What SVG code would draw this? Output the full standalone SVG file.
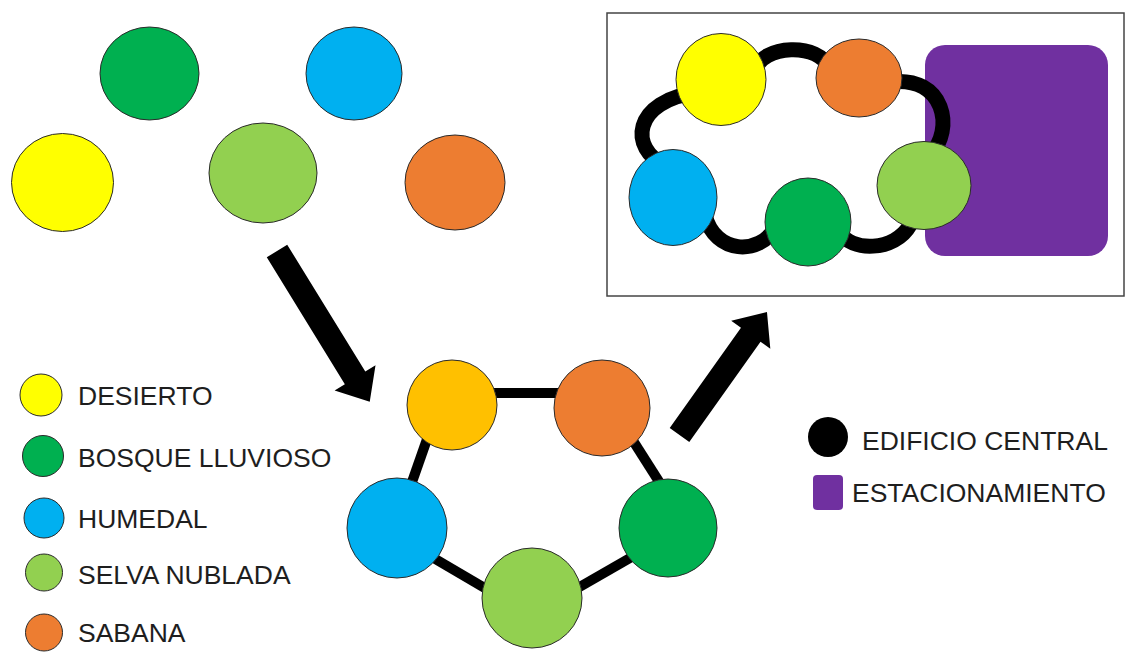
<svg xmlns="http://www.w3.org/2000/svg" width="1125" height="652" viewBox="0 0 1125 652">
<style>
.c{stroke:#2a2a2a;stroke-width:1}
.y{fill:#FFFF00}.dg{fill:#00B050}.bl{fill:#00B0F0}.lg{fill:#92D050}.or{fill:#ED7D31}.go{fill:#FFC000}
.lbl{font-family:"Liberation Sans",Arial,sans-serif;font-size:26.5px;fill:#1e1e1e}
.edge{stroke:#000;stroke-width:10;fill:none}
.loop{stroke:#000;stroke-width:15;fill:none;stroke-linecap:butt}
.arrow{fill:#000}
</style>
<rect width="1125" height="652" fill="#fff"/>

<!-- top-left scattered biomes -->
<g id="t-bosque"><ellipse class="c dg" cx="149.5" cy="73.5" rx="49.5" ry="46.5"/></g>
<g id="t-humedal"><ellipse class="c bl" cx="354" cy="73.5" rx="48" ry="46.5"/></g>
<g id="t-desierto"><ellipse class="c y" cx="62.5" cy="182.5" rx="51" ry="49"/></g>
<g id="t-selva"><ellipse class="c lg" cx="263" cy="173" rx="54" ry="50"/></g>
<g id="t-sabana"><ellipse class="c or" cx="455" cy="182.5" rx="50" ry="47.5"/></g>

<!-- top-right frame -->
<g id="frame"><rect x="607" y="13" width="517" height="283" fill="none" stroke="#444" stroke-width="1.5"/></g>
<g id="estacionamiento-block"><rect x="925" y="45" width="183" height="211" rx="20" fill="#7030A0"/></g>

<g id="connectors">
<!-- big arrows -->
<polygon class="arrow" transform="translate(277,251) rotate(58.4)" points="0,-12 149,-12 149,-24 177,0 149,24 149,12 0,12"/>
<polygon class="arrow" transform="translate(679.5,435) rotate(-54.6)" points="0,-12 123,-12 123,-24 151,0 123,24 123,12 0,12"/>
<!-- pentagon edges -->
<line class="edge" x1="470" y1="393" x2="585" y2="393"/>
<line class="edge" x1="432" y1="425" x2="405" y2="502"/>
<line class="edge" x1="626.5" y1="430.5" x2="668.5" y2="496.5"/>
<line class="edge" x1="414" y1="546.5" x2="506" y2="600.5"/>
<line class="edge" x1="559.5" y1="598.5" x2="653.5" y2="544.5"/>
<!-- central building loop -->
<path class="loop" d="M755,72 C760,43 822,43 828,68"/>
<path class="loop" d="M890,82 C945,75 955,130 930,155"/>
<path class="loop" d="M700,92 C630,100 630,150 665,165"/>
<path class="loop" d="M705,215 C715,255 760,255 775,228"/>
<path class="loop" d="M840,232 C850,252 895,252 910,225"/>
</g>

<!-- inner plan circles -->
<g id="p-desierto"><ellipse class="c y" cx="721" cy="79.5" rx="45" ry="46"/></g>
<g id="p-sabana"><ellipse class="c or" cx="859" cy="78" rx="43" ry="39"/></g>
<g id="p-humedal"><ellipse class="c bl" cx="673" cy="197.5" rx="44" ry="48"/></g>
<g id="p-bosque"><ellipse class="c dg" cx="808" cy="222" rx="43" ry="44"/></g>
<g id="p-selva"><ellipse class="c lg" cx="924" cy="185.5" rx="47" ry="44"/></g>

<!-- pentagon circles -->
<g id="g-desierto"><circle class="c go" cx="452" cy="405" r="45"/></g>
<g id="g-sabana"><circle class="c or" cx="602" cy="408" r="48"/></g>
<g id="g-humedal"><circle class="c bl" cx="397" cy="528" r="50"/></g>
<g id="g-bosque"><circle class="c dg" cx="668" cy="528" r="49"/></g>
<g id="g-selva"><circle class="c lg" cx="532" cy="598" r="50"/></g>

<!-- left legend -->
<g id="leg-desierto"><circle class="c y" cx="41" cy="395" r="21"/><text class="lbl" x="78" y="405">DESIERTO</text></g>
<g id="leg-bosque"><circle class="c dg" cx="43" cy="456" r="20.5"/><text class="lbl" x="78" y="467">BOSQUE LLUVIOSO</text></g>
<g id="leg-humedal"><circle class="c bl" cx="44" cy="518" r="20"/><text class="lbl" x="78" y="528">HUMEDAL</text></g>
<g id="leg-selva"><circle class="c lg" cx="44" cy="572.5" r="18.5"/><text class="lbl" x="78" y="584">SELVA NUBLADA</text></g>
<g id="leg-sabana"><circle class="c or" cx="44" cy="632.5" r="18.5"/><text class="lbl" x="78" y="642">SABANA</text></g>

<!-- right legend -->
<g id="leg-edificio"><circle cx="828" cy="437" r="20" fill="#000"/><text class="lbl" x="862" y="450">EDIFICIO CENTRAL</text></g>
<g id="leg-estacionamiento"><rect x="813" y="475" width="30" height="35" rx="4" fill="#7030A0"/><text class="lbl" x="852" y="502">ESTACIONAMIENTO</text></g>
</svg>
